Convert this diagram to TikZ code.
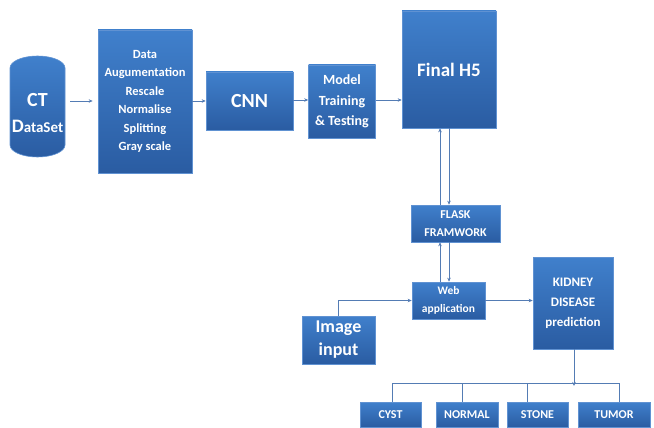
\documentclass[tikz,border=0pt]{standalone}
\usepackage{fontspec}
\setmainfont{Carlito}
\usetikzlibrary{arrows.meta}
\definecolor{boxtop}{RGB}{64,128,204}
\definecolor{boxbot}{RGB}{42,92,162}
\definecolor{boxedge}{RGB}{96,146,210}
\definecolor{linec}{RGB}{84,124,180}
\tikzset{
  blk/.style={rectangle, draw=boxedge, line width=0.6pt, top color=boxtop, bottom color=boxbot,
    text=white, font=\bfseries, align=center, inner sep=0pt},
  conn/.style={draw=linec, line width=0.8pt},
  arr/.style={conn, -{Stealth[length=4pt,width=3.5pt]}},
}
\begin{document}
\begin{tikzpicture}[x=1pt,y=-1pt]
\useasboundingbox (0,0) rectangle (654,428);
% CT dataset cylinder
\path[draw=boxedge, line width=0.6pt, top color=boxtop, bottom color=boxbot]
  (10,68) -- (10,145) arc[start angle=180, end angle=360, x radius=27.5pt, y radius=12pt]
  -- (65,68) arc[start angle=0, end angle=180, x radius=27.5pt, y radius=12pt] -- cycle;
\node[rectangle, minimum width=55pt, minimum height=102pt, inner sep=0pt,
  text=white, font=\bfseries\fontsize{20}{26}\selectfont, align=center] (ct) at (37.5,113)
  {CT\\{\fontsize{19}{22}\selectfont D}{\fontsize{15}{22}\selectfont ataSet}};
\node[blk, minimum width=94pt, minimum height=143pt, font=\bfseries\fontsize{12.5}{18.5}\selectfont] (data) at (145,101.5)
  {Data\\Augumentation\\Rescale\\Normalise\\Splitting\\Gray scale};
\node[blk, minimum width=87pt, minimum height=58pt, font=\bfseries\fontsize{20}{24}\selectfont] (cnn) at (249.5,101) {CNN};
\node[blk, minimum width=67pt, minimum height=73pt, font=\bfseries\fontsize{14}{20.5}\selectfont] (model) at (342,101.5)
  {Model\\Training\\\& Testing};
\node[blk, minimum width=94pt, minimum height=117pt, font=\bfseries\fontsize{19}{24}\selectfont] (final) at (449,69.5)
  {Final H5};
\node[blk, minimum width=89pt, minimum height=37pt, font=\bfseries\fontsize{12}{17.5}\selectfont] (flask) at (455.5,223.5)
  {FLASK\\FRAMWORK};
\node[blk, minimum width=73pt, minimum height=37pt, font=\bfseries\fontsize{11.5}{18}\selectfont] (web) at (448.5,300.5)
  {Web\\application};
\node[blk, minimum width=73pt, minimum height=48pt, font=\bfseries\fontsize{18}{23}\selectfont] (image) at (338.5,340)
  {Image\\input};
\node[blk, minimum width=80pt, minimum height=92pt, font=\bfseries\fontsize{13}{20}\selectfont] (kidney) at (573,303)
  {KIDNEY\\DISEASE\\prediction};
\node[blk, minimum width=61pt, minimum height=25pt, font=\bfseries\fontsize{12}{14}\selectfont] (cyst) at (390.5,414.5) {CYST};
\node[blk, minimum width=62pt, minimum height=25pt, font=\bfseries\fontsize{12}{14}\selectfont] (normal) at (467,414.5) {NORMAL};
\node[blk, minimum width=61pt, minimum height=25pt, font=\bfseries\fontsize{12}{14}\selectfont] (stone) at (537.5,414.5) {STONE};
\node[blk, minimum width=72pt, minimum height=25pt, font=\bfseries\fontsize{12}{14}\selectfont] (tumor) at (614,414.5) {TUMOR};
\coordinate (bus) at (574,383);
% main flow
\draw[arr, shorten <=5pt, shorten >=5pt] (ct.east |- 0,101) -- (data.west |- 0,101);
\draw[arr] (data.east |- 0,101) -- (cnn.west |- 0,101);
\draw[arr] (cnn.east |- 0,100) -- (model.west |- 0,100);
\draw[arr] (model.east |- 0,100) -- (final.west |- 0,100);
% final <-> flask <-> web
\draw[arr] (final.south -| 449,0) -- (flask.north -| 449,0);
\draw[arr] (flask.north -| 440,0) -- (final.south -| 440,0);
\draw[arr] (flask.south -| 449,0) -- (web.north -| 449,0);
\draw[arr] (web.north -| 440,0) -- (flask.south -| 440,0);
% image input -> web
\draw[arr] (image.north) |- (web.west);
% web -> kidney
\draw[arr] (web.east) -- (web.east -| kidney.west);
% kidney -> classes
\draw[arr] (kidney.south -| bus) -- ([yshift=-3pt]bus);
\draw[conn] ([xshift=1.5pt]cyst.north) |- ([xshift=5pt]tumor.north |- bus) -- ([xshift=5pt]tumor.north);
\draw[conn] ([xshift=-5pt]normal.north |- bus) -- ([xshift=-5pt]normal.north);
\draw[conn] ([xshift=-10pt]stone.north |- bus) -- ([xshift=-10pt]stone.north);
\end{tikzpicture}
\end{document}
